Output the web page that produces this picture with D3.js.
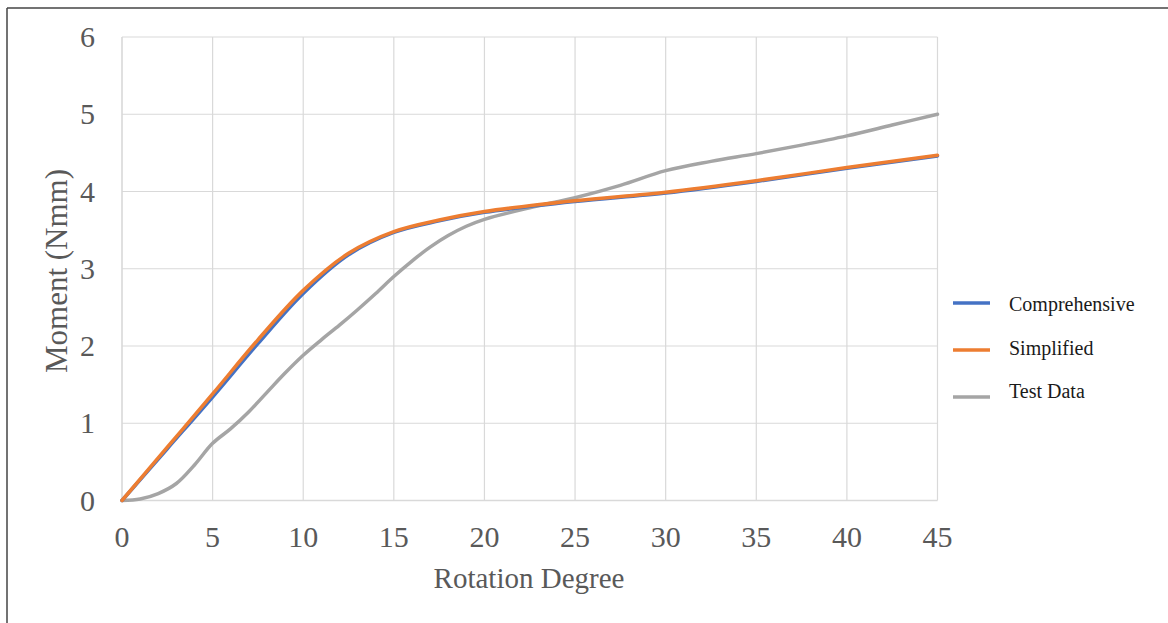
<!DOCTYPE html>
<html>
<head>
<meta charset="utf-8">
<script src="https://cdn.jsdelivr.net/npm/d3@7"></script>
<style>
  body { margin: 0; background: #fff; }
  svg { display: block; }
</style>
</head>
<body>
<div class="chart"></div>
<script>
// model curves share the same rotation steps
var modelDegrees = [0, 2.5, 5, 7.5, 10, 12.5, 15, 17.5, 20, 25, 30, 35, 40, 45];
var comprehensive = [0, 0.67, 1.34, 2.03, 2.68, 3.18, 3.47, 3.62, 3.73, 3.87, 3.98, 4.13, 4.30, 4.46];
var simplified = [0, 0.69, 1.38, 2.08, 2.72, 3.20, 3.48, 3.63, 3.74, 3.88, 3.99, 4.14, 4.31, 4.47];

// measured curve
var testDegrees = [0, 1, 2, 3, 4, 5, 6, 7, 8, 9, 10, 11, 12, 13, 14, 15, 16, 17, 18, 19, 20,
                   22.5, 25, 27.5, 30, 32.5, 35, 37.5, 40, 42.5, 45];
var testData = [0, 0.02, 0.09, 0.22, 0.46, 0.74, 0.93, 1.15, 1.40, 1.65, 1.88, 2.08, 2.27, 2.47, 2.68,
                2.90, 3.10, 3.28, 3.43, 3.55, 3.64, 3.79, 3.92, 4.08, 4.27, 4.39, 4.49, 4.60, 4.72, 4.86, 5.00];

var xTicks = [0, 5, 10, 15, 20, 25, 30, 35, 40, 45];
var yTicks = [0, 1, 2, 3, 4, 5, 6];

var seriesNames = ['Comprehensive', 'Simplified', 'Test Data'];
var seriesColors = ['#4472c4', '#ed7d31', '#a5a5a5'];

var W = 1168, H = 623;
var plot = {left: 122, right: 937.5, top: 37, bottom: 500.5};
var serif = '"Liberation Serif", "Times New Roman", serif';

var x = d3.scaleLinear().domain([0, 45]).range([plot.left, plot.right]);
var y = d3.scaleLinear().domain([0, 6]).range([plot.bottom, plot.top]);

var svg = d3.select('.chart').append('svg')
  .attr('width', W)
  .attr('height', H);

// frame (only left and top edges are in view)
svg.append('line')
  .attr('x1', 7).attr('y1', 8).attr('x2', 7).attr('y2', H)
  .attr('stroke', '#444').attr('stroke-width', 1.5);
svg.append('line')
  .attr('x1', 7).attr('y1', 8).attr('x2', W).attr('y2', 8)
  .attr('stroke', '#444').attr('stroke-width', 1.5);

// gridlines
svg.append('g').selectAll('line')
  .data(yTicks)
  .enter().append('line')
    .attr('x1', plot.left).attr('x2', plot.right)
    .attr('y1', d => y(d)).attr('y2', d => y(d))
    .attr('stroke', '#d9d9d9')
    .attr('stroke-width', d => d === 0 ? 1.6 : 1.2);

svg.append('g').selectAll('line')
  .data(xTicks)
  .enter().append('line')
    .attr('x1', d => x(d)).attr('x2', d => x(d))
    .attr('y1', plot.top).attr('y2', plot.bottom)
    .attr('stroke', '#d9d9d9')
    .attr('stroke-width', d => d === 0 ? 1.6 : 1.2);

// tick labels
svg.append('g').selectAll('text')
  .data(yTicks)
  .enter().append('text')
    .attr('x', 95)
    .attr('y', d => y(d) + 10)
    .attr('text-anchor', 'end')
    .attr('font-family', serif)
    .attr('font-size', 30)
    .attr('fill', '#595959')
    .text(d => d);

svg.append('g').selectAll('text')
  .data(xTicks)
  .enter().append('text')
    .attr('x', d => x(d))
    .attr('y', 547)
    .attr('text-anchor', 'middle')
    .attr('font-family', serif)
    .attr('font-size', 30)
    .attr('fill', '#595959')
    .text(d => d);

// axis titles
svg.append('text')
  .attr('transform', 'translate(67, 271) rotate(-90)')
  .attr('text-anchor', 'middle')
  .attr('font-family', serif)
  .attr('font-size', 31)
  .attr('fill', '#595959')
  .text('Moment (Nmm)');

svg.append('text')
  .attr('x', 529)
  .attr('y', 588)
  .attr('text-anchor', 'middle')
  .attr('font-family', serif)
  .attr('font-size', 29)
  .attr('fill', '#595959')
  .text('Rotation Degree');

// series
var series = [
  {name: seriesNames[0], color: seriesColors[0], values: modelDegrees.map((d, i) => ({deg: d, m: comprehensive[i]}))},
  {name: seriesNames[1], color: seriesColors[1], values: modelDegrees.map((d, i) => ({deg: d, m: simplified[i]}))},
  {name: seriesNames[2], color: seriesColors[2], values: testDegrees.map((d, i) => ({deg: d, m: testData[i]}))}
];

var line = d3.line()
  .curve(d3.curveCatmullRom.alpha(0.5))
  .x(d => x(d.deg))
  .y(d => y(d.m));

// draw test data first, then the two model curves on top
svg.append('g').selectAll('path')
  .data([series[2], series[0], series[1]])
  .enter().append('path')
    .attr('d', d => line(d.values))
    .attr('fill', 'none')
    .attr('stroke', d => d.color)
    .attr('stroke-width', 3.5)
    .attr('stroke-linecap', 'round')
    .attr('stroke-linejoin', 'round');

// legend
var legend = svg.append('g').selectAll('g')
  .data(series)
  .enter().append('g');

legend.append('line')
  .attr('x1', 953).attr('x2', 990)
  .attr('y1', (d, i) => 303 + i * 47)
  .attr('y2', (d, i) => 303 + i * 47)
  .attr('stroke', d => d.color)
  .attr('stroke-width', 3.5);

legend.append('text')
  .attr('x', 1009)
  .attr('y', (d, i) => 311 + i * 43.5)
  .attr('font-family', serif)
  .attr('font-size', 20)
  .attr('fill', '#1a1a1a')
  .text(d => d.name);
</script>
</body>
</html>
